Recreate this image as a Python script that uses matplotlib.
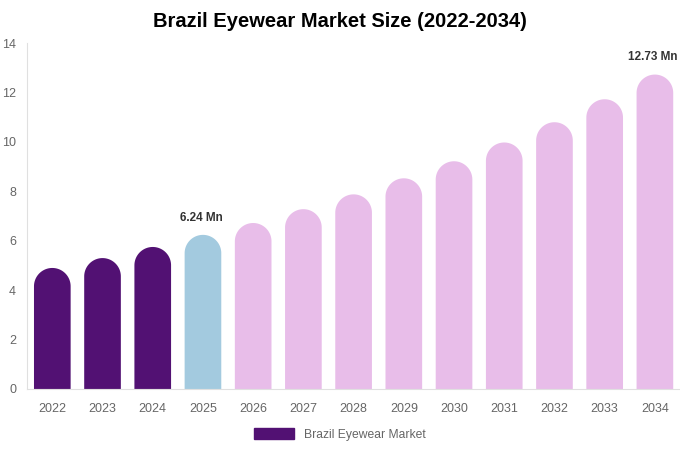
import numpy as np
import matplotlib.pyplot as plt
from matplotlib.patches import Polygon, Patch

plt.rcParams['font.family'] = ['Liberation Sans', 'DejaVu Sans']

years = ["2022", "2023", "2024", "2025", "2026", "2027", "2028",
         "2029", "2030", "2031", "2032", "2033", "2034"]
values = [4.9, 5.3, 5.75, 6.24, 6.72, 7.28, 7.88, 8.53, 9.22, 9.98, 10.8, 11.73, 12.73]
colors = ["#521173"] * 3 + ["#a3cadf"] + ["#e8bde9"] * 9
labels = {3: "6.24 Mn", 12: "12.73 Mn"}

fig = plt.figure(figsize=(6.8, 4.5), dpi=100)
ax = fig.add_axes([0.04, 0.1356, 0.96, 0.7684])
ax.set_xlim(-0.5, len(years) - 0.5)
ax.set_ylim(0, 14)

width = 0.73
# radius of the round cap, converted to y data units
ax_h_px = ax.get_position().height * fig.get_figheight() * fig.dpi
ax_w_px = ax.get_position().width * fig.get_figwidth() * fig.dpi
px_x = ax_w_px / len(years)
px_y = ax_h_px / 14
r_y = (width * px_x / 2) / px_y

t = np.linspace(0, np.pi, 60)
for i, (v, c) in enumerate(zip(values, colors)):
    cx = i + (width / 2) * np.cos(t)
    cy = (v - r_y) + r_y * np.sin(t)
    xs = np.concatenate([[i + width / 2], cx, [i - width / 2]])
    ys = np.concatenate([[0], cy, [0]])
    ax.add_patch(Polygon(np.column_stack([xs, ys]), closed=True, color=c, lw=0))
    if i in labels:
        ax.text(i - 0.04, v + 0.45, labels[i], ha="center", va="bottom",
                fontsize=8.5, fontweight="bold", color="#333333")

ax.set_xticks(range(len(years)))
ax.set_xticklabels(years)
ax.set_yticks(range(0, 15, 2))
ax.tick_params(length=0, labelsize=9, labelcolor="#666666")
ax.tick_params(axis="x", pad=10)
ax.tick_params(axis="y", pad=8)
for s in ["top", "right"]:
    ax.spines[s].set_visible(False)
for s in ["left", "bottom"]:
    ax.spines[s].set_color("#e0e0e0")

fig.text(0.5, 0.952, "Brazil Eyewear Market Size (2022-2034)", fontsize=14.5,
         fontweight="bold", ha="center", va="center")

fig.legend(handles=[Patch(color="#521173", label="Brazil Eyewear Market")],
           loc="center", bbox_to_anchor=(0.5, 0.035), frameon=False,
           fontsize=8.7, handlelength=3.3, handleheight=1.0, labelcolor="#666666")

fig.savefig("out.png", dpi=100)
